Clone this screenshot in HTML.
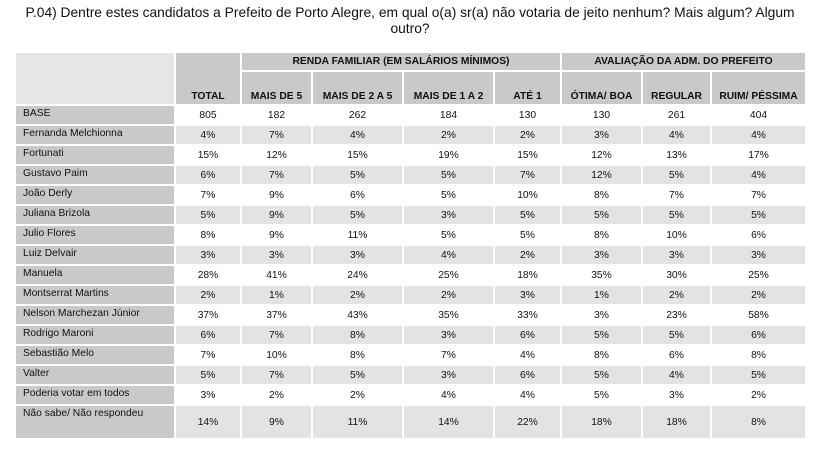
<!DOCTYPE html>
<html><head><meta charset="utf-8">
<style>
html,body{margin:0;padding:0;background:#fff;width:824px;height:449px;overflow:hidden;font-family:"Liberation Sans",sans-serif;}
#title{position:absolute;left:0;top:5px;width:820px;text-align:center;font-size:13.8px;line-height:16px;color:#111;}
table{position:absolute;left:14px;top:51px;width:791px;table-layout:fixed;border-collapse:collapse;font-size:10.3px;color:#111;}
td,th{border:2px solid #fff;padding:0;text-align:center;}
th{background:#c9c9c9;font-weight:bold;}
tr.g th{height:17px;}
tr.h th{height:30px;vertical-align:bottom;padding-bottom:2px;}
th.corner{background:#e6e6e6;}
td.lab{background:#c9c9c9;text-align:left;padding-left:7px;vertical-align:top;padding-top:2px;}
tr.r td{height:16px;}
tr.w td.v{background:#fff;}
tr.gy td.v{background:#e3e3e3;}
tr.last td{height:30px;}
</style></head><body>
<div id="title">P.04) Dentre estes candidatos a Prefeito de Porto Alegre, em qual o(a) sr(a) não votaria de jeito nenhum? Mais algum? Algum<br>outro?</div>
<table>
<colgroup><col style="width:160px"><col style="width:66px"><col style="width:71px"><col style="width:91px"><col style="width:91px"><col style="width:67px"><col style="width:81px"><col style="width:69px"><col style="width:95px"></colgroup>
<tr class="g"><th class="corner" rowspan="2"></th><th rowspan="2" style="vertical-align:bottom;padding-bottom:2px">TOTAL</th><th colspan="4">RENDA FAMILIAR (EM SALÁRIOS MÍNIMOS)</th><th colspan="3">AVALIAÇÃO DA ADM. DO PREFEITO</th></tr>
<tr class="h"><th>MAIS DE 5</th><th>MAIS DE 2 A 5</th><th>MAIS DE 1 A 2</th><th>ATÉ 1</th><th>ÓTIMA/ BOA</th><th>REGULAR</th><th>RUIM/ PÉSSIMA</th></tr>
<tbody id="body"></tbody>
</table>
<script>
const rowLabels=["BASE","Fernanda Melchionna","Fortunati","Gustavo Paim","João Derly","Juliana Brizola","Julio Flores","Luiz Delvair","Manuela","Montserrat Martins","Nelson Marchezan Júnior","Rodrigo Maroni","Sebastião Melo","Valter","Poderia votar em todos","Não sabe/ Não respondeu"];
const rowValues=[
["805","182","262","184","130","130","261","404"],
["4%","7%","4%","2%","2%","3%","4%","4%"],
["15%","12%","15%","19%","15%","12%","13%","17%"],
["6%","7%","5%","5%","7%","12%","5%","4%"],
["7%","9%","6%","5%","10%","8%","7%","7%"],
["5%","9%","5%","3%","5%","5%","5%","5%"],
["8%","9%","11%","5%","5%","8%","10%","6%"],
["3%","3%","3%","4%","2%","3%","3%","3%"],
["28%","41%","24%","25%","18%","35%","30%","25%"],
["2%","1%","2%","2%","3%","1%","2%","2%"],
["37%","37%","43%","35%","33%","3%","23%","58%"],
["6%","7%","8%","3%","6%","5%","5%","6%"],
["7%","10%","8%","7%","4%","8%","6%","8%"],
["5%","7%","5%","3%","6%","5%","4%","5%"],
["3%","2%","2%","4%","4%","5%","3%","2%"],
["14%","9%","11%","14%","22%","18%","18%","8%"]];
const body=document.getElementById('body');
rowLabels.forEach((lab,i)=>{
  const tr=document.createElement('tr');
  tr.className='r '+(i%2===0?'w':'gy')+(i===rowLabels.length-1?' last':'');
  
  
  const th=document.createElement('td');
  th.className='lab';th.textContent=lab;
  
  
  tr.appendChild(th);
  rowValues[i].forEach(v=>{
    const td=document.createElement('td');
    td.className='v';td.textContent=v;
    
    
    tr.appendChild(td);
  });
  body.appendChild(tr);
});
</script>
</body></html>
